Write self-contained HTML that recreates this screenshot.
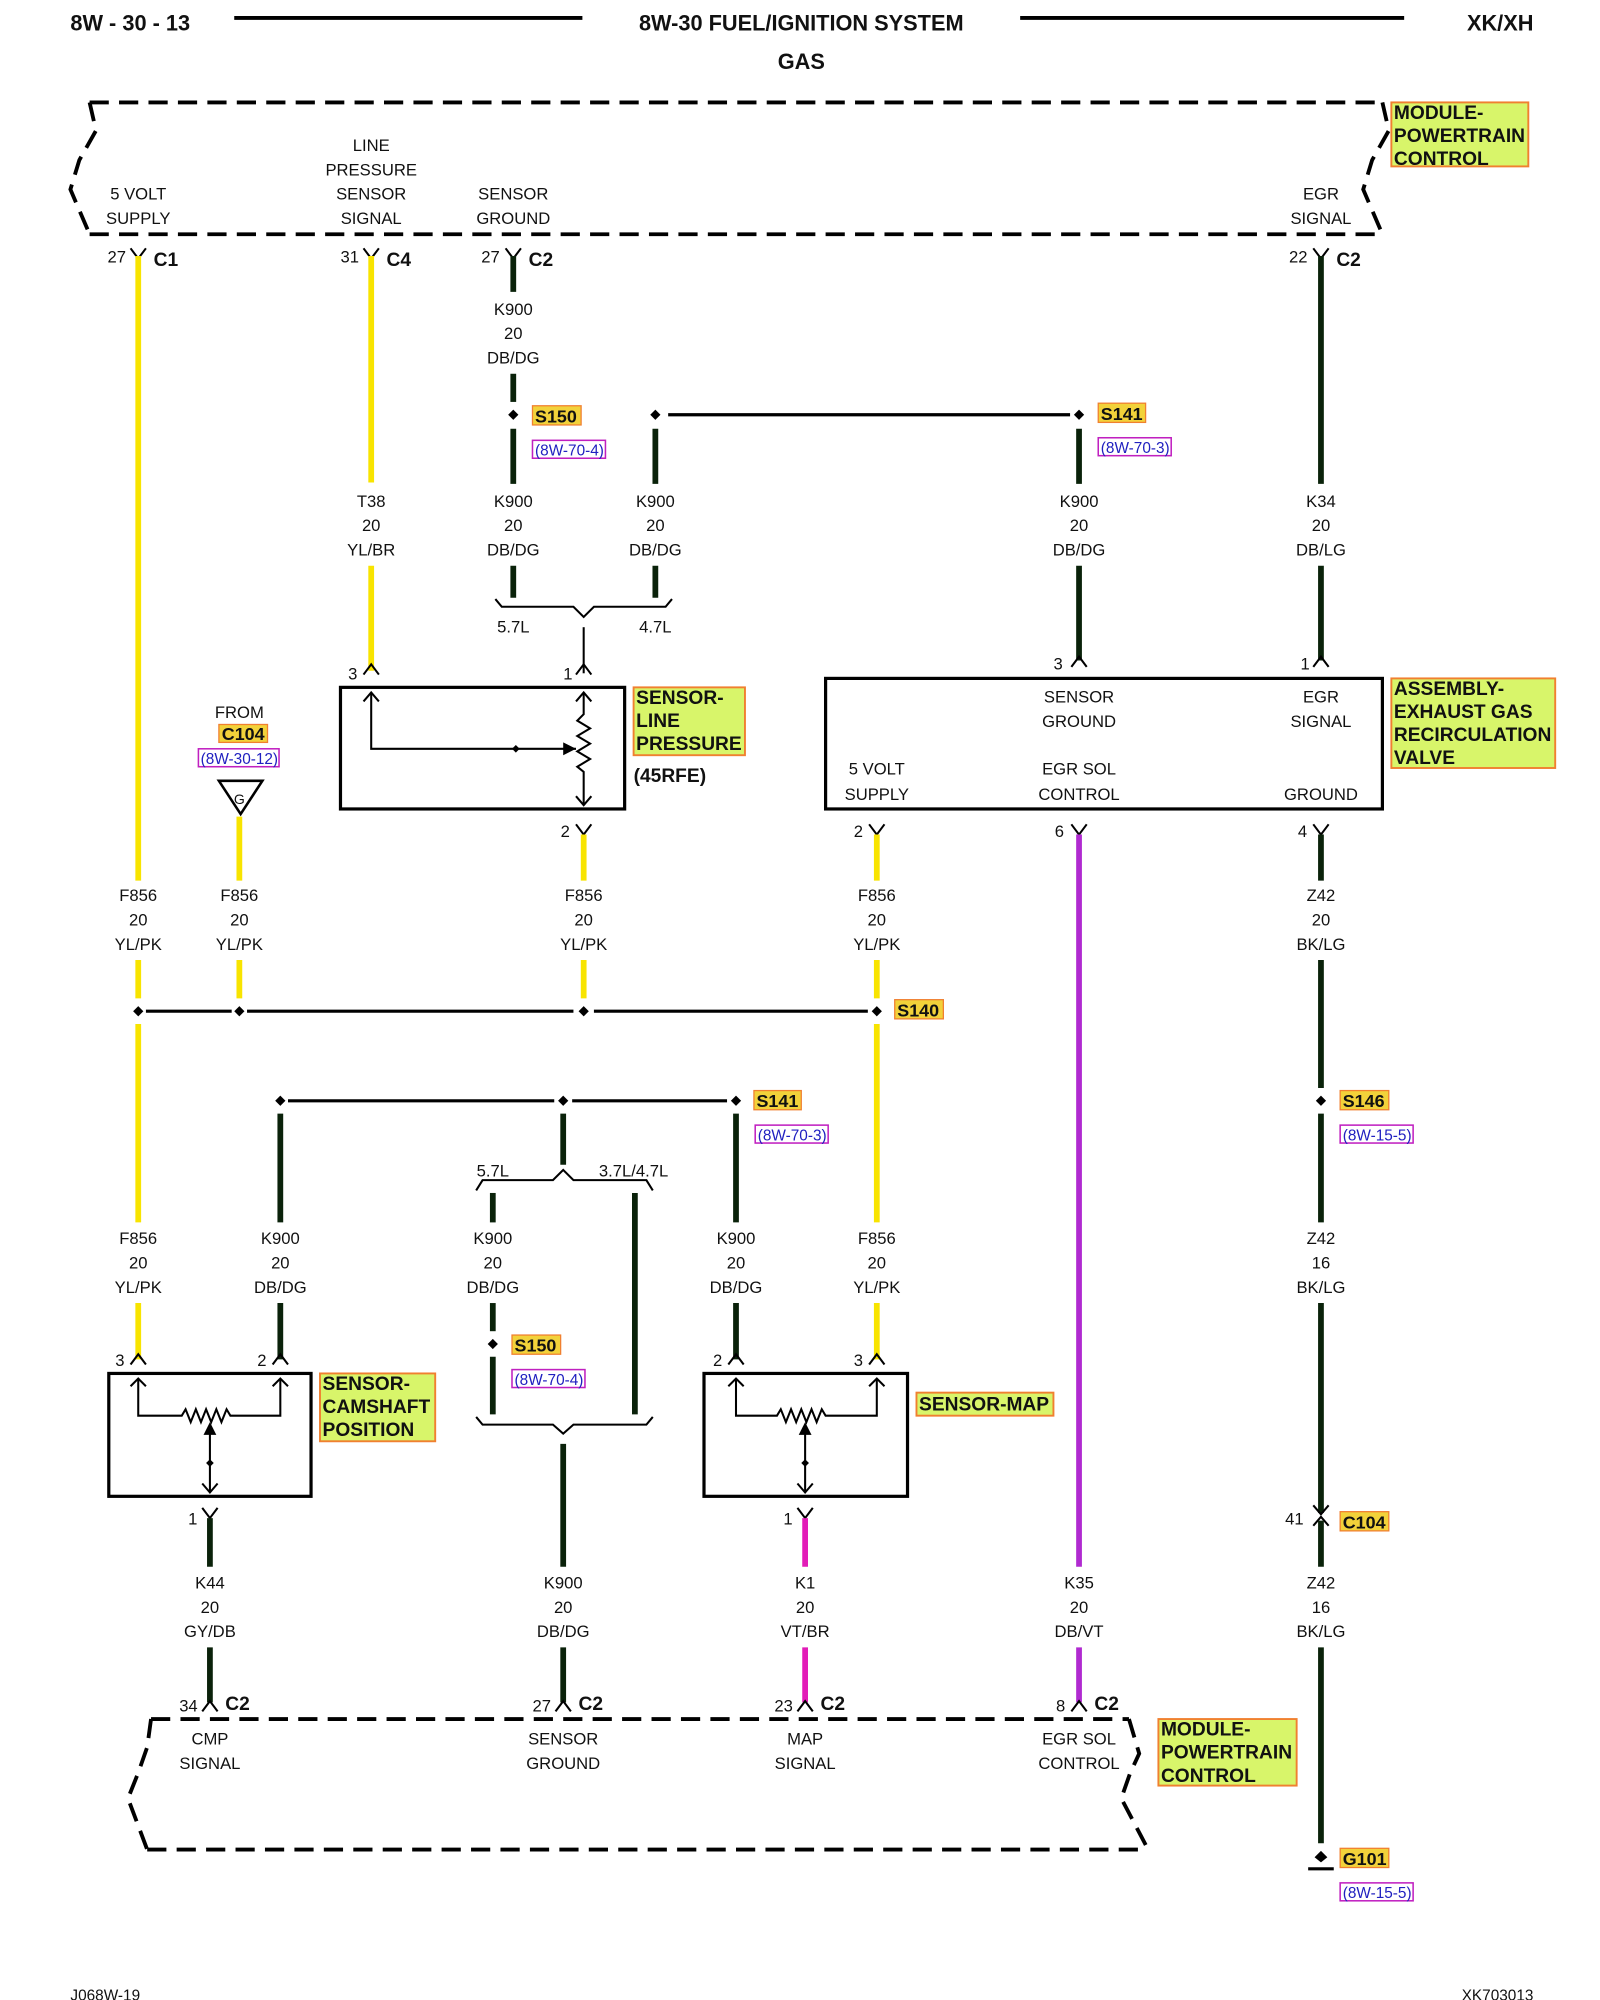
<!DOCTYPE html>
<html><head><meta charset="utf-8"><style>
html,body{margin:0;padding:0;background:#fff;width:1600px;height:2000px;overflow:hidden}
svg{display:block}
text{font-family:"Liberation Sans",sans-serif;font-size:13px;fill:#111}
.c{text-anchor:middle}
.b{font-weight:bold}
.y{stroke:#f8e400;stroke-width:4.5;fill:none}
.k{stroke:#0a220a;stroke-width:4.5;fill:none}
.v{stroke:#b02ad0;stroke-width:4.5;fill:none}
.m{stroke:#e21cb8;stroke-width:4.5;fill:none}
.ln{stroke:#000;stroke-width:2.5;fill:none}
.th{stroke:#000;stroke-width:1.6;fill:none}
.dash{stroke:#000;stroke-width:3;fill:none;stroke-dasharray:15 8}
.lab{fill:#d8f56a;stroke:#f08030;stroke-width:1.5}
.spl{fill:#f2d23a;stroke:#f08030;stroke-width:1}
.ref{fill:none;stroke:#c020c0;stroke-width:1.2}
.rt{fill:#2020c0;font-size:12px}
.lt{font-weight:bold;font-size:15px}
</style></head><body>
<svg width="1600" height="2000" viewBox="0 0 1250 1562.5" xmlns="http://www.w3.org/2000/svg">
<!-- header -->
<text x="55" y="24" class="b" style="font-size:17px">8W - 30 - 13</text>
<line x1="183" y1="14" x2="455" y2="14" stroke="#000" stroke-width="3"/>
<text x="626" y="24" class="c b" style="font-size:17px">8W-30 FUEL/IGNITION SYSTEM</text>
<line x1="797" y1="14" x2="1097" y2="14" stroke="#000" stroke-width="3"/>
<text x="1198" y="24" class="b" style="font-size:17px" text-anchor="end">XK/XH</text>
<text x="626" y="54" class="c b" style="font-size:17px">GAS</text>

<!-- top PCM -->
<line x1="70" y1="80" x2="1080" y2="80" class="dash"/>
<line x1="70" y1="183" x2="1080" y2="183" class="dash"/>
<polyline points="70,80 75,102 62,125 55,148 70,183" class="dash"/>
<polyline points="1080,80 1085,102 1072,125 1065,148 1080,183" class="dash"/>
<rect x="1087" y="80" width="107" height="50" class="lab"/>
<text x="1089" y="93" class="lt">MODULE-</text><text x="1089" y="111" class="lt">POWERTRAIN</text><text x="1089" y="129" class="lt">CONTROL</text>
<text x="108" y="156" class="c">5 VOLT</text><text x="108" y="175" class="c">SUPPLY</text>
<text x="290" y="118" class="c">LINE</text><text x="290" y="137" class="c">PRESSURE</text><text x="290" y="156" class="c">SENSOR</text><text x="290" y="175" class="c">SIGNAL</text>
<text x="401" y="156" class="c">SENSOR</text><text x="401" y="175" class="c">GROUND</text>
<text x="1032" y="156" class="c">EGR</text><text x="1032" y="175" class="c">SIGNAL</text>

<!-- top pins -->
<g class="th"><polyline points="102,194 108,202 114,194"/><polyline points="284,194 290,202 296,194"/><polyline points="395,194 401,202 407,194"/><polyline points="1026,194 1032,202 1038,194"/></g>
<text x="84" y="205">27</text><text x="120" y="208" class="b" style="font-size:15px">C1</text>
<text x="266" y="205">31</text><text x="302" y="208" class="b" style="font-size:15px">C4</text>
<text x="376" y="205">27</text><text x="413" y="208" class="b" style="font-size:15px">C2</text>
<text x="1007" y="205">22</text><text x="1044" y="208" class="b" style="font-size:15px">C2</text>

<!-- x108 -->
<line x1="108" y1="200" x2="108" y2="688" class="y"/>
<text x="108" y="704" class="c">F856</text><text x="108" y="723" class="c">20</text><text x="108" y="742" class="c">YL/PK</text>
<line x1="108" y1="750" x2="108" y2="780" class="y"/>
<line x1="108" y1="800" x2="108" y2="955" class="y"/>
<text x="108" y="972" class="c">F856</text><text x="108" y="991" class="c">20</text><text x="108" y="1010" class="c">YL/PK</text>
<line x1="108" y1="1018" x2="108" y2="1062" class="y"/>

<!-- x290 -->
<line x1="290" y1="200" x2="290" y2="377" class="y"/>
<text x="290" y="396" class="c">T38</text><text x="290" y="415" class="c">20</text><text x="290" y="434" class="c">YL/BR</text>
<line x1="290" y1="442" x2="290" y2="524" class="y"/>

<!-- x401 -->
<line x1="401" y1="200" x2="401" y2="228" class="k"/>
<text x="401" y="246" class="c">K900</text><text x="401" y="265" class="c">20</text><text x="401" y="284" class="c">DB/DG</text>
<line x1="401" y1="292" x2="401" y2="314" class="k"/>
<path d="M401 320l4 4-4 4-4-4z"/>
<line x1="401" y1="335" x2="401" y2="378" class="k"/>
<text x="401" y="396" class="c">K900</text><text x="401" y="415" class="c">20</text><text x="401" y="434" class="c">DB/DG</text>
<line x1="401" y1="442" x2="401" y2="467" class="k"/>
<rect x="416" y="317" width="38" height="15" class="spl"/><text x="418" y="330" class="b" style="font-size:14px">S150</text>
<rect x="416" y="344" width="57" height="14" class="ref"/><text x="418" y="356" class="rt">(8W-70-4)</text>

<!-- x512 / S141 -->
<path d="M512 320l4 4-4 4-4-4z"/>
<line x1="522" y1="324" x2="836" y2="324" class="ln"/>
<path d="M843 320l4 4-4 4-4-4z"/>
<line x1="512" y1="335" x2="512" y2="378" class="k"/>
<text x="512" y="396" class="c">K900</text><text x="512" y="415" class="c">20</text><text x="512" y="434" class="c">DB/DG</text>
<line x1="512" y1="442" x2="512" y2="467" class="k"/>
<rect x="858" y="315" width="37" height="15" class="spl"/><text x="860" y="328" class="b" style="font-size:14px">S141</text>
<rect x="858" y="342" width="57" height="14" class="ref"/><text x="860" y="354" class="rt">(8W-70-3)</text>
<line x1="843" y1="335" x2="843" y2="378" class="k"/>
<text x="843" y="396" class="c">K900</text><text x="843" y="415" class="c">20</text><text x="843" y="434" class="c">DB/DG</text>
<line x1="843" y1="442" x2="843" y2="516" class="k"/>

<!-- bracket 5.7/4.7 -->
<polyline points="387,468 392,474 448,474 456,482 464,474 520,474 525,468" class="th"/>
<line x1="456" y1="490" x2="456" y2="526" class="th"/>
<text x="401" y="494" class="c">5.7L</text><text x="512" y="494" class="c">4.7L</text>

<!-- x1032 -->
<line x1="1032" y1="200" x2="1032" y2="378" class="k"/>
<text x="1032" y="396" class="c">K34</text><text x="1032" y="415" class="c">20</text><text x="1032" y="434" class="c">DB/LG</text>
<line x1="1032" y1="442" x2="1032" y2="516" class="k"/>

<!-- pins into upper boxes -->
<g class="th"><polyline points="284,527 290,519 296,527"/><polyline points="450,527 456,519 462,527"/><polyline points="837,521 843,513 849,521"/><polyline points="1026,521 1032,513 1038,521"/></g>
<text x="272" y="531">3</text><text x="440" y="531">1</text><text x="823" y="523">3</text><text x="1016" y="523">1</text>

<!-- line pressure sensor -->
<rect x="266" y="537" width="222" height="95" fill="none" stroke="#000" stroke-width="2.5"/>
<polyline points="290,542 290,585 450,585" class="th"/>
<polyline points="284,548 290,541 296,548" class="th"/>
<path d="M400 585l3-3 3 3-3 3z"/>
<path d="M440 580l10 5-10 5z"/>
<polyline points="456,541 456,558 451,563 461,569 451,575 461,581 451,587 461,593 451,599 456,603 456,628" class="th"/>
<polyline points="450,548 456,541 462,548" class="th"/>
<polyline points="450,622 456,629 462,622" class="th"/>
<rect x="495" y="537" width="87" height="53" class="lab"/>
<text x="497" y="550" class="lt">SENSOR-</text><text x="497" y="568" class="lt">LINE</text><text x="497" y="586" class="lt">PRESSURE</text>
<text x="495" y="611" class="lt">(45RFE)</text>

<!-- FROM C104 -->
<text x="187" y="561" class="c">FROM</text>
<rect x="171" y="566" width="38" height="14" class="spl"/><text x="190" y="578" class="c b" style="font-size:14px">C104</text>
<rect x="155" y="585" width="63" height="14" class="ref"/><text x="187" y="597" class="c rt">(8W-30-12)</text>
<polygon points="171,610 205,610 188,636" fill="none" stroke="#000" stroke-width="2"/>
<text x="187" y="628" class="c" style="font-size:11px">G</text>
<line x1="187" y1="638" x2="187" y2="688" class="y"/>
<text x="187" y="704" class="c">F856</text><text x="187" y="723" class="c">20</text><text x="187" y="742" class="c">YL/PK</text>
<line x1="187" y1="750" x2="187" y2="780" class="y"/>

<!-- x456 below -->
<polyline points="450,644 456,652 462,644" class="th"/><text x="438" y="654">2</text>
<line x1="456" y1="652" x2="456" y2="688" class="y"/>
<text x="456" y="704" class="c">F856</text><text x="456" y="723" class="c">20</text><text x="456" y="742" class="c">YL/PK</text>
<line x1="456" y1="750" x2="456" y2="780" class="y"/>

<!-- EGR assembly -->
<rect x="645" y="530" width="435" height="102" fill="none" stroke="#000" stroke-width="2.5"/>
<text x="843" y="549" class="c">SENSOR</text><text x="843" y="568" class="c">GROUND</text>
<text x="1032" y="549" class="c">EGR</text><text x="1032" y="568" class="c">SIGNAL</text>
<text x="685" y="605" class="c">5 VOLT</text><text x="685" y="625" class="c">SUPPLY</text>
<text x="843" y="605" class="c">EGR SOL</text><text x="843" y="625" class="c">CONTROL</text>
<text x="1032" y="625" class="c">GROUND</text>
<rect x="1087" y="530" width="128" height="70" class="lab"/>
<text x="1089" y="543" class="lt">ASSEMBLY-</text><text x="1089" y="561" class="lt">EXHAUST GAS</text><text x="1089" y="579" class="lt">RECIRCULATION</text><text x="1089" y="597" class="lt">VALVE</text>

<g class="th"><polyline points="679,644 685,652 691,644"/><polyline points="837,644 843,652 849,644"/><polyline points="1026,644 1032,652 1038,644"/></g>
<text x="667" y="654">2</text><text x="824" y="654">6</text><text x="1014" y="654">4</text>
<line x1="685" y1="652" x2="685" y2="688" class="y"/>
<text x="685" y="704" class="c">F856</text><text x="685" y="723" class="c">20</text><text x="685" y="742" class="c">YL/PK</text>
<line x1="685" y1="750" x2="685" y2="780" class="y"/>
<line x1="685" y1="800" x2="685" y2="955" class="y"/>
<text x="685" y="972" class="c">F856</text><text x="685" y="991" class="c">20</text><text x="685" y="1010" class="c">YL/PK</text>
<line x1="685" y1="1018" x2="685" y2="1062" class="y"/>

<line x1="843" y1="652" x2="843" y2="1224" class="v"/>
<text x="843" y="1241" class="c">K35</text><text x="843" y="1260" class="c">20</text><text x="843" y="1279" class="c">DB/VT</text>
<line x1="843" y1="1287" x2="843" y2="1330" class="v"/>

<line x1="1032" y1="652" x2="1032" y2="688" class="k"/>
<text x="1032" y="704" class="c">Z42</text><text x="1032" y="723" class="c">20</text><text x="1032" y="742" class="c">BK/LG</text>
<line x1="1032" y1="750" x2="1032" y2="850" class="k"/>
<path d="M1032 856l4 4-4 4-4-4z"/>
<rect x="1047" y="852" width="38" height="15" class="spl"/><text x="1049" y="865" class="b" style="font-size:14px">S146</text>
<rect x="1047" y="879" width="57" height="14" class="ref"/><text x="1049" y="891" class="rt">(8W-15-5)</text>
<line x1="1032" y1="870" x2="1032" y2="955" class="k"/>
<text x="1032" y="972" class="c">Z42</text><text x="1032" y="991" class="c">16</text><text x="1032" y="1010" class="c">BK/LG</text>
<line x1="1032" y1="1018" x2="1032" y2="1182" class="k"/>
<polyline points="1026,1176 1032,1183 1038,1176" class="th"/>
<polyline points="1026,1192 1032,1185 1038,1192" class="th"/>
<text x="1004" y="1191">41</text>
<rect x="1047" y="1181" width="38" height="15" class="spl"/><text x="1049" y="1194" class="b" style="font-size:14px">C104</text>
<line x1="1032" y1="1188" x2="1032" y2="1224" class="k"/>
<text x="1032" y="1241" class="c">Z42</text><text x="1032" y="1260" class="c">16</text><text x="1032" y="1279" class="c">BK/LG</text>
<line x1="1032" y1="1287" x2="1032" y2="1440" class="k"/>
<path d="M1032 1446l5 5-5 4-5-4z"/>
<line x1="1022" y1="1460" x2="1042" y2="1460" stroke="#000" stroke-width="2.5"/>
<rect x="1047" y="1444" width="38" height="15" class="spl"/><text x="1049" y="1457" class="b" style="font-size:14px">G101</text>
<rect x="1047" y="1471" width="57" height="14" class="ref"/><text x="1049" y="1483" class="rt">(8W-15-5)</text>

<!-- S140 -->
<line x1="114" y1="790" x2="181" y2="790" class="ln"/>
<line x1="193" y1="790" x2="448" y2="790" class="ln"/>
<line x1="464" y1="790" x2="678" y2="790" class="ln"/>
<path d="M108 786l4 4-4 4-4-4z"/><path d="M187 786l4 4-4 4-4-4z"/><path d="M456 786l4 4-4 4-4-4z"/><path d="M685 786l4 4-4 4-4-4z"/>
<rect x="699" y="781" width="38" height="15" class="spl"/><text x="701" y="794" class="b" style="font-size:14px">S140</text>

<!-- S141 lower -->
<line x1="225" y1="860" x2="433" y2="860" class="ln"/>
<line x1="447" y1="860" x2="568" y2="860" class="ln"/>
<path d="M219 856l4 4-4 4-4-4z"/><path d="M440 856l4 4-4 4-4-4z"/><path d="M575 856l4 4-4 4-4-4z"/>
<rect x="589" y="852" width="37" height="15" class="spl"/><text x="591" y="865" class="b" style="font-size:14px">S141</text>
<rect x="590" y="879" width="57" height="14" class="ref"/><text x="592" y="891" class="rt">(8W-70-3)</text>

<line x1="219" y1="870" x2="219" y2="955" class="k"/>
<text x="219" y="972" class="c">K900</text><text x="219" y="991" class="c">20</text><text x="219" y="1010" class="c">DB/DG</text>
<line x1="219" y1="1018" x2="219" y2="1062" class="k"/>

<line x1="440" y1="870" x2="440" y2="910" class="k"/>
<polyline points="372,930 377,922 432,922 440,914 448,922 505,922 510,930" class="th"/>
<text x="385" y="919" class="c">5.7L</text><text x="495" y="919" class="c">3.7L/4.7L</text>
<line x1="385" y1="932" x2="385" y2="955" class="k"/>
<text x="385" y="972" class="c">K900</text><text x="385" y="991" class="c">20</text><text x="385" y="1010" class="c">DB/DG</text>
<line x1="385" y1="1018" x2="385" y2="1040" class="k"/>
<path d="M385 1046l4 4-4 4-4-4z"/>
<line x1="385" y1="1060" x2="385" y2="1105" class="k"/>
<rect x="400" y="1043" width="38" height="15" class="spl"/><text x="402" y="1056" class="b" style="font-size:14px">S150</text>
<rect x="400" y="1070" width="57" height="14" class="ref"/><text x="402" y="1082" class="rt">(8W-70-4)</text>
<line x1="496" y1="932" x2="496" y2="1105" class="k"/>
<polyline points="372,1107 377,1113 432,1113 440,1120 448,1113 505,1113 510,1107" class="th"/>
<line x1="440" y1="1128" x2="440" y2="1224" class="k"/>
<text x="440" y="1241" class="c">K900</text><text x="440" y="1260" class="c">20</text><text x="440" y="1279" class="c">DB/DG</text>
<line x1="440" y1="1287" x2="440" y2="1330" class="k"/>

<line x1="575" y1="870" x2="575" y2="955" class="k"/>
<text x="575" y="972" class="c">K900</text><text x="575" y="991" class="c">20</text><text x="575" y="1010" class="c">DB/DG</text>
<line x1="575" y1="1018" x2="575" y2="1062" class="k"/>

<!-- pins into lower sensors -->
<g class="th"><polyline points="102,1066 108,1058 114,1066"/><polyline points="213,1066 219,1058 225,1066"/><polyline points="569,1066 575,1058 581,1066"/><polyline points="679,1066 685,1058 691,1066"/></g>
<text x="90" y="1067">3</text><text x="201" y="1067">2</text><text x="557" y="1067">2</text><text x="667" y="1067">3</text>

<!-- camshaft sensor -->
<rect x="85" y="1073" width="158" height="96" fill="none" stroke="#000" stroke-width="2.5"/>
<polyline points="108,1077 108,1106 142,1106 145,1101 149,1111 153,1101 157,1111 161,1101 165,1111 169,1101 173,1111 177,1101 180,1106 219,1106 219,1077" class="th"/>
<polyline points="102,1083 108,1077 114,1083" class="th"/><polyline points="213,1083 219,1077 225,1083" class="th"/>
<line x1="164" y1="1120" x2="164" y2="1165" class="th"/>
<path d="M159 1121l5-10 5 10z"/>
<line x1="164" y1="1143" x2="164" y2="1143"/><path d="M161 1143l3-3 3 3-3 3z"/>
<polyline points="158,1159 164,1166 170,1159" class="th"/>
<rect x="250" y="1073" width="90" height="53" class="lab"/>
<text x="252" y="1086" class="lt">SENSOR-</text><text x="252" y="1104" class="lt">CAMSHAFT</text><text x="252" y="1122" class="lt">POSITION</text>

<!-- MAP sensor -->
<rect x="550" y="1073" width="159" height="96" fill="none" stroke="#000" stroke-width="2.5"/>
<polyline points="575,1077 575,1106 607,1106 610,1101 614,1111 618,1101 622,1111 626,1101 630,1111 634,1101 638,1111 642,1101 645,1106 685,1106 685,1077" class="th"/>
<polyline points="569,1083 575,1077 581,1083" class="th"/><polyline points="679,1083 685,1077 691,1083" class="th"/>
<line x1="629" y1="1120" x2="629" y2="1165" class="th"/>
<path d="M624 1121l5-10 5 10z"/>
<path d="M626 1143l3-3 3 3-3 3z"/>
<polyline points="623,1159 629,1166 635,1159" class="th"/>
<rect x="716" y="1088" width="107" height="18" class="lab"/>
<text x="718" y="1102" class="lt">SENSOR-MAP</text>

<!-- pin 1 below sensors -->
<g class="th"><polyline points="158,1178 164,1186 170,1178"/><polyline points="623,1178 629,1186 635,1178"/></g>
<text x="147" y="1191">1</text><text x="612" y="1191">1</text>
<line x1="164" y1="1186" x2="164" y2="1224" class="k"/>
<text x="164" y="1241" class="c">K44</text><text x="164" y="1260" class="c">20</text><text x="164" y="1279" class="c">GY/DB</text>
<line x1="164" y1="1287" x2="164" y2="1330" class="k"/>
<line x1="629" y1="1186" x2="629" y2="1224" class="m"/>
<text x="629" y="1241" class="c">K1</text><text x="629" y="1260" class="c">20</text><text x="629" y="1279" class="c">VT/BR</text>
<line x1="629" y1="1287" x2="629" y2="1330" class="m"/>

<!-- bottom pins -->
<g class="th"><polyline points="158,1337 164,1329 170,1337"/><polyline points="434,1337 440,1329 446,1337"/><polyline points="623,1337 629,1329 635,1337"/><polyline points="837,1337 843,1329 849,1337"/></g>
<text x="140" y="1337">34</text><text x="176" y="1336" class="b" style="font-size:15px">C2</text>
<text x="416" y="1337">27</text><text x="452" y="1336" class="b" style="font-size:15px">C2</text>
<text x="605" y="1337">23</text><text x="641" y="1336" class="b" style="font-size:15px">C2</text>
<text x="825" y="1337">8</text><text x="855" y="1336" class="b" style="font-size:15px">C2</text>

<!-- bottom PCM -->
<line x1="118" y1="1343" x2="882" y2="1343" class="dash"/>
<line x1="115" y1="1445" x2="897" y2="1445" class="dash"/>
<polyline points="118,1343 115,1365 108,1385 100,1405 115,1445" class="dash"/>
<polyline points="882,1343 890,1370 883,1385 876,1405 897,1445" class="dash"/>
<text x="164" y="1363" class="c">CMP</text><text x="164" y="1382" class="c">SIGNAL</text>
<text x="440" y="1363" class="c">SENSOR</text><text x="440" y="1382" class="c">GROUND</text>
<text x="629" y="1363" class="c">MAP</text><text x="629" y="1382" class="c">SIGNAL</text>
<text x="843" y="1363" class="c">EGR SOL</text><text x="843" y="1382" class="c">CONTROL</text>
<rect x="905" y="1343" width="108" height="52" class="lab"/>
<text x="907" y="1356" class="lt">MODULE-</text><text x="907" y="1374" class="lt">POWERTRAIN</text><text x="907" y="1392" class="lt">CONTROL</text>

<!-- footer -->
<text x="55" y="1563" style="font-size:12px">J068W-19</text>
<text x="1198" y="1563" style="font-size:12px" text-anchor="end">XK703013</text>
</svg>
</body></html>
